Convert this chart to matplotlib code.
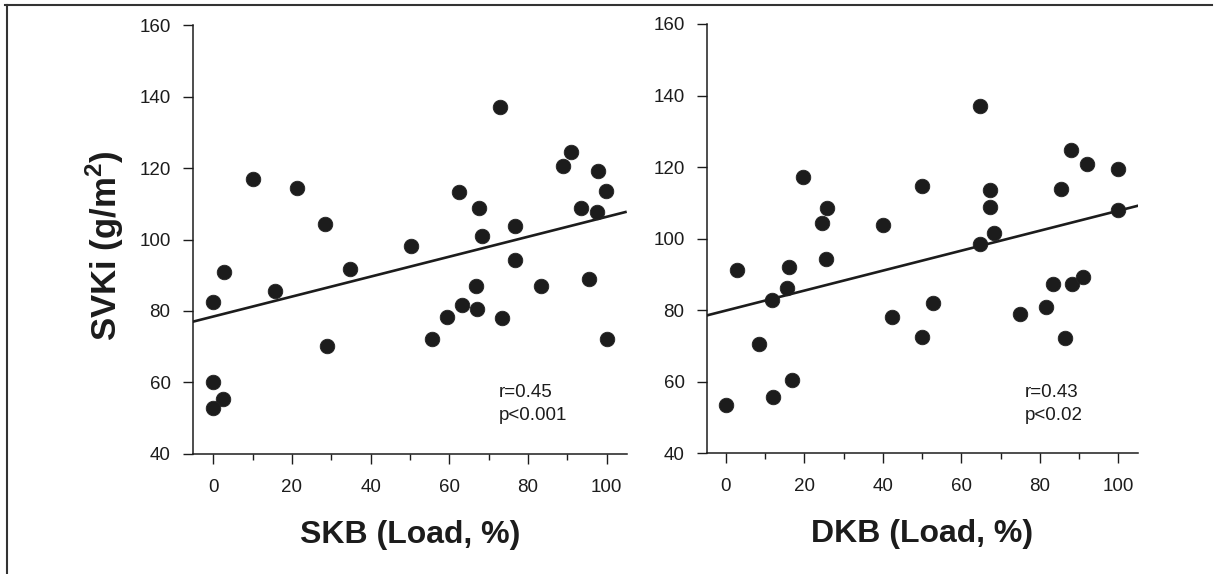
import matplotlib
matplotlib.use("Agg")
import matplotlib.pyplot as plt
from matplotlib.lines import Line2D
import numpy as np

plt.rcParams['font.family'] = ['Liberation Sans', 'DejaVu Sans']
plt.rcParams['mathtext.fontset'] = 'custom'
plt.rcParams['mathtext.rm'] = 'Liberation Sans'
plt.rcParams['mathtext.bf'] = 'Liberation Sans:bold'

# ---- data ----
skb_load = [0, 2.7, 0, 2.5, 0, 10.0, 15.7, 21.2, 28.4, 28.8, 34.8, 50.3, 55.7,
            59.5, 62.5, 63.3, 66.8, 67.0, 67.5, 68.4, 72.9, 73.5, 76.7, 76.7,
            83.4, 89.0, 90.9, 93.4, 95.5, 97.5, 97.7, 99.8, 100.2]
skb_svki = [82.4, 90.8, 60.0, 55.4, 53.0, 116.9, 85.7, 114.3, 104.2, 70.2, 91.8,
            98.2, 72.2, 78.4, 113.4, 81.7, 87.1, 80.6, 108.7, 101.1, 137.0, 78.0,
            103.7, 94.3, 87.1, 120.6, 124.6, 108.7, 89.0, 107.8, 119.2, 113.7, 72.1]

dkb_load = [64.7, 2.7, 19.7, 16.1, 15.5, 11.8, 24.6, 25.7, 25.5, 39.9, 49.9,
            67.3, 67.3, 68.4, 64.7, 85.4, 87.9, 91.9, 100.0, 100.0, 83.3, 88.1,
            90.9, 52.8, 42.2, 49.9, 74.9, 81.7, 86.4, 8.4, 16.9, 12.1, 0.0]
dkb_svki = [137.1, 91.2, 117.3, 92.2, 86.1, 82.9, 104.5, 108.7, 94.2, 103.8,
            114.8, 113.6, 108.9, 101.5, 98.5, 113.9, 124.8, 120.9, 119.5, 108.0,
            87.2, 87.2, 89.4, 81.9, 78.2, 72.6, 78.8, 81.0, 72.3, 70.5, 60.5,
            55.6, 53.5]

# regression lines (intercept, slope)
skb_fit = (78.45, 0.279)
dkb_fit = (79.9, 0.279)

skb_stats = "r=0.45\np<0.001"
dkb_stats = "r=0.43\np<0.02"

x_ticks = [0, 20, 40, 60, 80, 100]
x_minor = [10, 30, 50, 70, 90]
y_ticks = [40, 60, 80, 100, 120, 140, 160]

fig = plt.figure(figsize=(12.16, 5.74), dpi=100)
fig.patch.set_facecolor('white')

ax1 = fig.add_axes([0.1585, 0.2091, 0.3569, 0.7473])
ax2 = fig.add_axes([0.5812, 0.2103, 0.3549, 0.7479])

panels = [
    (ax1, skb_load, skb_svki, skb_fit, skb_stats, (-5.2, 105.1), 'SKB (Load, %)', (72.5, 59.6)),
    (ax2, dkb_load, dkb_svki, dkb_fit, dkb_stats, (-4.9, 105.1), 'DKB (Load, %)', (76.2, 59.3)),
]

ink = '#1c1c1c'
for ax, xs, ys, fit, stats, xlim, xlabel, tpos in panels:
    ax.scatter(xs, ys, s=110, color=ink, edgecolors='#222222', linewidths=0.6, zorder=3)
    xx = np.array(xlim)
    ax.plot(xx, fit[0] + fit[1] * xx, color=ink, lw=1.9, zorder=2, solid_capstyle='butt')
    ax.set_xlim(*xlim)
    ax.set_ylim(40, 160)
    ax.set_xticks(x_ticks)
    ax.set_xticks(x_minor, minor=True)
    ax.set_yticks(y_ticks)
    for s in ['top', 'right']:
        ax.spines[s].set_visible(False)
    for s in ['left', 'bottom']:
        ax.spines[s].set_linewidth(1.1)
        ax.spines[s].set_color(ink)
    ax.tick_params(axis='x', which='major', direction='out', length=7, width=1.0,
                   labelsize=13.5, pad=11, colors=ink)
    ax.tick_params(axis='x', which='minor', direction='out', length=4, width=1.0, colors=ink)
    ax.tick_params(axis='y', which='major', direction='out', length=7, width=1.0,
                   labelsize=13.5, pad=9, colors=ink)
    ax.set_xlabel(xlabel, fontsize=23, fontweight='bold', color=ink, va='center')
    ax.xaxis.set_label_coords(0.5, -0.189)
    ax.text(tpos[0], tpos[1], stats, fontsize=13.5, color=ink, ha='left', va='top',
            linespacing=1.45)

ax1.set_ylabel(r'SVKi (g/m$^{\mathbf{2}}$)', fontsize=25, fontweight='bold', color=ink,
               va='center')
ax1.yaxis.set_label_coords(-0.203, 0.487)

# page frame (scan border)
fig.add_artist(Line2D([5/1216, 1212/1216], [1 - 4.5/574, 1 - 4.5/574],
                      transform=fig.transFigure, color='#333333', lw=1.5))
fig.add_artist(Line2D([7/1216, 7/1216], [0, 1 - 4.5/574],
                      transform=fig.transFigure, color='#333333', lw=1.5))

fig.savefig('out.png', dpi=100, facecolor='white')
